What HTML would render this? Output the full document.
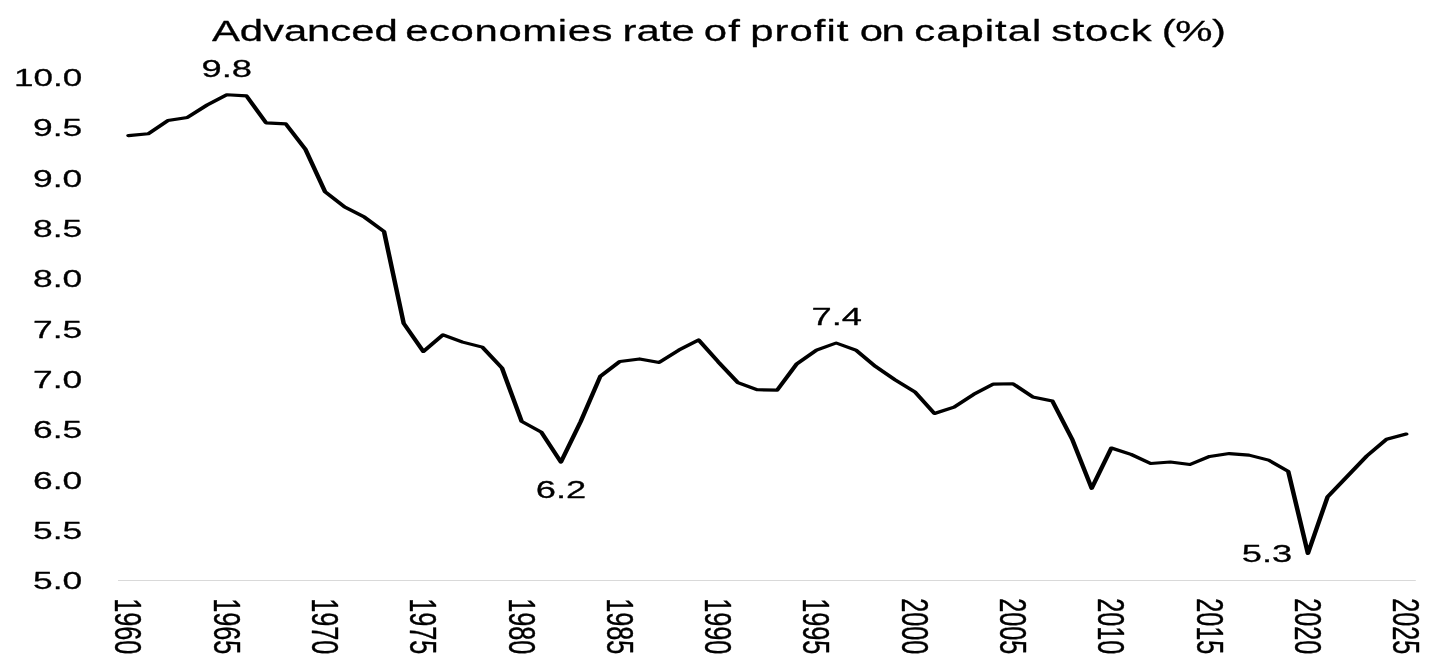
<!DOCTYPE html>
<html><head><meta charset="utf-8"><title>Advanced economies rate of profit on capital stock (%)</title>
<style>
html,body{margin:0;padding:0;background:#fff;}
body{width:1438px;height:664px;overflow:hidden;}
svg{display:block;}
text{font-family:"Liberation Sans",sans-serif;fill:#000;stroke:#000;stroke-width:0.28px;stroke-linejoin:round;}
.lab{font-size:24.8px;}
.title{font-size:30.0px;}
.xl{font-size:25.2px;}
</style></head><body>
<svg width="1438" height="664" viewBox="0 0 1438 664">
<rect width="1438" height="664" fill="#fff"/>
<line x1="118" y1="580.5" x2="1415.8" y2="580.5" stroke="#d9d9d9" stroke-width="1"/>
<text id="title" class="title" transform="translate(0,41.3) scale(1.3965,1)"><tspan x="151.81" style="letter-spacing:-0.061px">Advanced </tspan><tspan x="290.15" style="letter-spacing:0.430px">economies </tspan><tspan x="445.69" style="letter-spacing:0.072px">rate </tspan><tspan x="503.97" style="letter-spacing:0.931px">of </tspan><tspan x="537.20" style="letter-spacing:0.730px">profit </tspan><tspan x="615.68" style="letter-spacing:-1.146px">on </tspan><tspan x="654.64" style="letter-spacing:0.728px">capital </tspan><tspan x="752.74" style="letter-spacing:0.483px">stock </tspan><tspan x="831.94" style="letter-spacing:-0.394px">(%)</tspan></text>

<text class="lab yl" text-anchor="end" transform="translate(82.3,85.8) scale(1.4143,1)">10.0</text>
<text class="lab yl" text-anchor="end" transform="translate(82.3,136.2) scale(1.4275,1)">9.5</text>
<text class="lab yl" text-anchor="end" transform="translate(82.3,186.5) scale(1.4275,1)">9.0</text>
<text class="lab yl" text-anchor="end" transform="translate(82.3,236.9) scale(1.4275,1)">8.5</text>
<text class="lab yl" text-anchor="end" transform="translate(82.3,287.2) scale(1.4275,1)">8.0</text>
<text class="lab yl" text-anchor="end" transform="translate(82.3,337.6) scale(1.4275,1)">7.5</text>
<text class="lab yl" text-anchor="end" transform="translate(82.3,387.9) scale(1.4275,1)">7.0</text>
<text class="lab yl" text-anchor="end" transform="translate(82.3,438.2) scale(1.4275,1)">6.5</text>
<text class="lab yl" text-anchor="end" transform="translate(82.3,488.6) scale(1.4275,1)">6.0</text>
<text class="lab yl" text-anchor="end" transform="translate(82.3,539.0) scale(1.4275,1)">5.5</text>
<text class="lab yl" text-anchor="end" transform="translate(82.3,589.3) scale(1.4275,1)">5.0</text>
<text class="xl" transform="translate(115.4,598.35) scale(1.46,1) rotate(90)">1960</text>
<text class="xl" transform="translate(213.7,598.35) scale(1.46,1) rotate(90)">1965</text>
<text class="xl" transform="translate(312.0,598.35) scale(1.46,1) rotate(90)">1970</text>
<text class="xl" transform="translate(410.3,598.35) scale(1.46,1) rotate(90)">1975</text>
<text class="xl" transform="translate(508.5,598.35) scale(1.46,1) rotate(90)">1980</text>
<text class="xl" transform="translate(606.8,598.35) scale(1.46,1) rotate(90)">1985</text>
<text class="xl" transform="translate(705.1,598.35) scale(1.46,1) rotate(90)">1990</text>
<text class="xl" transform="translate(803.4,598.35) scale(1.46,1) rotate(90)">1995</text>
<text class="xl" transform="translate(901.7,598.35) scale(1.46,1) rotate(90)">2000</text>
<text class="xl" transform="translate(1000.0,598.35) scale(1.46,1) rotate(90)">2005</text>
<text class="xl" transform="translate(1098.2,598.35) scale(1.46,1) rotate(90)">2010</text>
<text class="xl" transform="translate(1196.5,598.35) scale(1.46,1) rotate(90)">2015</text>
<text class="xl" transform="translate(1294.8,598.35) scale(1.46,1) rotate(90)">2020</text>
<text class="xl" transform="translate(1393.1,598.35) scale(1.46,1) rotate(90)">2025</text>
<text class="lab dl" transform="translate(201.6,77.2) scale(1.464072580645161,1)">9.8</text>
<text class="lab dl" transform="translate(535.7,498.4) scale(1.464072580645161,1)">6.2</text>
<text class="lab dl" transform="translate(811.5,324.8) scale(1.464072580645161,1)">7.4</text>
<text class="lab dl" transform="translate(1241.7,561.8) scale(1.464072580645161,1)">5.3</text>
<g transform="scale(1.47,1)"><polyline id="ln" fill="none" stroke="#000" stroke-width="3.1" stroke-linejoin="round" stroke-linecap="round" points="87.41,135.6 100.79,133.8 114.16,120.6 127.53,117.4 140.90,105.0 154.28,94.7 167.65,95.9 181.02,122.9 194.39,123.9 207.76,149.2 221.14,191.8 234.51,207.1 247.88,217.1 261.25,231.5 274.62,323.4 288.00,351.5 301.37,334.8 314.74,342.1 328.11,347.1 341.49,368.0 354.86,421.4 368.23,432.1 381.60,462.1 394.97,421.8 408.35,376.4 421.72,361.4 435.09,358.9 448.46,362.4 461.83,350.1 475.21,339.9 488.58,361.8 501.95,382.6 515.32,389.8 528.69,390.1 542.07,363.8 555.44,350.2 568.81,343.0 582.18,350.1 595.56,366.4 608.93,379.8 622.30,391.8 635.67,413.5 649.04,407.1 662.42,394.3 675.79,384.1 689.16,383.8 702.53,396.9 715.90,401.0 729.28,438.9 742.65,488.3 756.02,448.0 769.39,454.4 782.76,463.5 796.14,462.0 809.51,464.5 822.88,456.4 836.25,453.6 849.63,455.1 863.00,460.1 876.37,471.4 889.74,553.5 903.11,496.8 916.49,476.4 929.86,455.9 943.23,439.2 956.60,434.0"/></g>
</svg></body></html>
